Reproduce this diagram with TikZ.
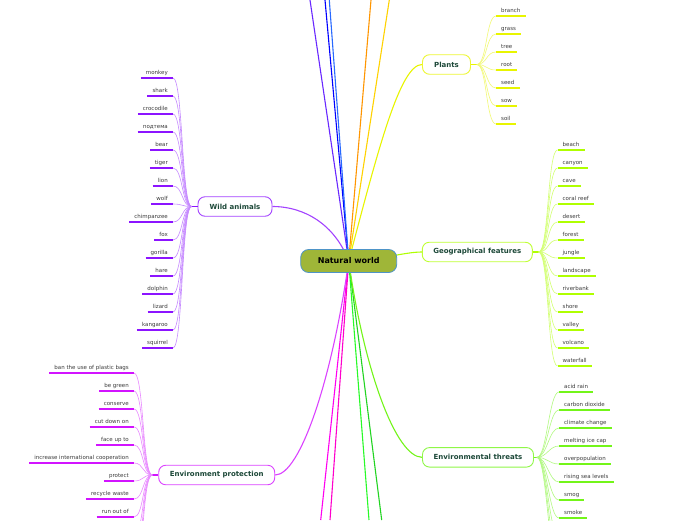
\documentclass[tikz,border=0pt]{standalone}
\usepackage{fontspec}
\setmainfont{DejaVu Sans}
\usetikzlibrary{positioning,backgrounds}
\definecolor{centerfill}{RGB}{159,182,56}
\definecolor{centeredge}{RGB}{78,148,200}
\definecolor{topictext}{RGB}{28,72,56}
\definecolor{leafgray}{RGB}{60,60,60}
\definecolor{wildcol}{RGB}{140,20,255}
\definecolor{protcol}{RGB}{210,20,255}
\definecolor{plantcol}{RGB}{232,245,0}
\definecolor{geocol}{RGB}{175,255,0}
\definecolor{threatcol}{RGB}{115,245,25}
\definecolor{violetcol}{RGB}{105,40,255}
\definecolor{bluecol}{RGB}{0,0,255}
\definecolor{skycol}{RGB}{40,105,255}
\definecolor{orangecol}{RGB}{255,150,0}
\definecolor{goldcol}{RGB}{255,210,0}
\definecolor{magentacol}{RGB}{255,0,240}
\definecolor{greencol}{RGB}{40,250,40}

\begin{document}
\begin{tikzpicture}[
  x=1pt,y=-1pt,
  hub/.style={line width=1.5pt},
  branch/.style={line width=1.1pt},
  twig/.style={line width=0.6pt},
  underline/.style={line width=1.4pt},
  topic/.style={draw,fill=white,rounded corners=7pt,line width=0.9pt,
    minimum height=19.5pt,inner xsep=2pt,text=topictext,
    font=\fontsize{7}{8}\selectfont\bfseries},
  core/.style={draw=centeredge,fill=centerfill,rounded corners=8pt,line width=0.8pt,
    minimum width=96pt,minimum height=23pt,
    font=\fontsize{8}{9}\selectfont\bfseries},
  leaf/.style={inner xsep=5pt,inner ysep=2pt,text height=3.9pt,text depth=1.5pt,
    text=leafgray,font=\fontsize{5.5}{6}\selectfont}
]
\useasboundingbox (0,0) rectangle (696,520);

% -------------------------------------------------------------------------
% central topic and main topics
% -------------------------------------------------------------------------
\node[core] (nw) at (348.7,261) {Natural world};
\node[topic,draw=wildcol!80,minimum width=74pt] (wa) at (235,206.5) {Wild animals};
\node[topic,draw=protcol!80,minimum width=116pt] (ep) at (216.7,475) {Environment protection};
\node[topic,draw=plantcol!80,minimum width=48pt] (pl) at (446.5,64.5) {Plants};
\node[topic,draw=geocol!80,minimum width=110pt] (gf) at (477.3,252) {Geographical features};
\node[topic,draw=threatcol!80,minimum width=111pt] (et) at (478,457.3) {Environmental threats};

\coordinate[left=6pt of wa] (wahub);
\coordinate[left=6pt of ep] (ephub);
\coordinate[right=6pt of pl] (plhub);
\coordinate[right=6pt of gf] (gfhub);
\coordinate[right=3pt of et] (ethub);

% branches leaving the picture
\coordinate (t1) at (310,0);
\coordinate (t2) at (325,0);
\coordinate (t3) at (329.3,0);
\coordinate (t4) at (371,0);
\coordinate (t5) at (389.3,0);
\coordinate (b1) at (320.7,520);
\coordinate (b2) at (330,520);
\coordinate (b3) at (369,520);
\coordinate (b4) at (381.7,520);

\begin{scope}[on background layer]
  \fill[white] (0,0) rectangle (696,520);
  \foreach \c/\e in {violetcol/t1,bluecol/t2,skycol/t3,orangecol/t4,goldcol/t5,
      magentacol/b1,magentacol!85!red/b2,greencol/b3,greencol!85!black/b4}
    {\draw[branch,\c] (nw.center) -- (\e);}
  \draw[branch,wildcol!80] (nw.center) .. controls (335,225) and (305,206.5) .. (wa.east);
  \draw[branch,protcol!80] (nw.center) .. controls (332,380) and (300,475) .. (ep.east);
  \draw[branch,plantcol] (nw.center) .. controls (378,150) and (400,64.5) .. (pl.west);
  \draw[branch,geocol] (nw.center) .. controls (385,259) and (405,252) .. (gf.west);
  \draw[branch,threatcol] (nw.center) .. controls (364,370) and (396,457.3) .. (et.west);
\end{scope}

% -------------------------------------------------------------------------
% Wild animals
% -------------------------------------------------------------------------
\draw[hub,wildcol] (wahub) -- (wa.west);
\foreach \t [count=\i] in {monkey,shark,crocodile,подтема,bear,tiger,lion,wolf,
    chimpanzee,fox,gorilla,hare,dolphin,lizard,kangaroo,squirrel}
{
  \node[leaf,anchor=south east] (wa\i) at (173,{60+18*\i}) {\t};
  \draw[twig,wildcol!50] (wa\i.south east) .. controls +(10,0) and +(-10,0) .. (wahub);
  \draw[underline,wildcol] (wa\i.south west) -- (wa\i.south east);
}

% -------------------------------------------------------------------------
% Environment protection
% -------------------------------------------------------------------------
\draw[hub,protcol] (ephub) -- (ep.west);
\foreach \t [count=\i] in {ban the use of plastic bags,be green,conserve,cut down on,
    face up to,increase international cooperation,protect,recycle waste,run out of}
{
  \node[leaf,anchor=south east] (ep\i) at (134,{355+18*\i}) {\t};
  \draw[twig,protcol!50] (ep\i.south east) .. controls +(10,0) and +(-10,0) .. (ephub);
  \draw[underline,protcol] (ep\i.south west) -- (ep\i.south east);
}
\foreach \i in {10,11,12}
{
  \coordinate (ep\i) at (134,{355+18*\i});
  \draw[twig,protcol!50] (ep\i) .. controls +(10,0) and +(-10,0) .. (ephub);
}

% -------------------------------------------------------------------------
% Plants
% -------------------------------------------------------------------------
\draw[hub,plantcol] (pl.east) -- (plhub);
\foreach \t [count=\i] in {branch,grass,tree,root,seed,sow,soil}
{
  \node[leaf,anchor=south west] (pl\i) at (496,{-2+18*\i}) {\t};
  \draw[twig,plantcol!55] (plhub) .. controls +(10,0) and +(-10,0) .. (pl\i.south west);
  \draw[underline,plantcol] (pl\i.south west) -- (pl\i.south east);
}

% -------------------------------------------------------------------------
% Geographical features
% -------------------------------------------------------------------------
\draw[hub,geocol] (gf.east) -- (gfhub);
\foreach \t [count=\i] in {beach,canyon,cave,coral reef,desert,forest,jungle,
    landscape,riverbank,shore,valley,volcano,waterfall}
{
  \node[leaf,anchor=south west] (gf\i) at (557.5,{132+18*\i}) {\t};
  \draw[twig,geocol!55] (gfhub) .. controls +(10,0) and +(-10,0) .. (gf\i.south west);
  \draw[underline,geocol] (gf\i.south west) -- (gf\i.south east);
}

% -------------------------------------------------------------------------
% Environmental threats
% -------------------------------------------------------------------------
\draw[hub,threatcol] (et.east) -- (ethub);
\foreach \t [count=\i] in {acid rain,carbon dioxide,climate change,melting ice cap,
    overpopulation,rising sea levels,smog,smoke}
{
  \node[leaf,anchor=south west] (et\i) at (559,{374+18*\i}) {\t};
  \draw[twig,threatcol!55] (ethub) .. controls +(10,0) and +(-10,0) .. (et\i.south west);
  \draw[underline,threatcol] (et\i.south west) -- (et\i.south east);
}
\foreach \i in {9,10,11}
{
  \coordinate (et\i) at (559,{374+18*\i});
  \draw[twig,threatcol!55] (ethub) .. controls +(10,0) and +(-10,0) .. (et\i);
}
\end{tikzpicture}
\end{document}
